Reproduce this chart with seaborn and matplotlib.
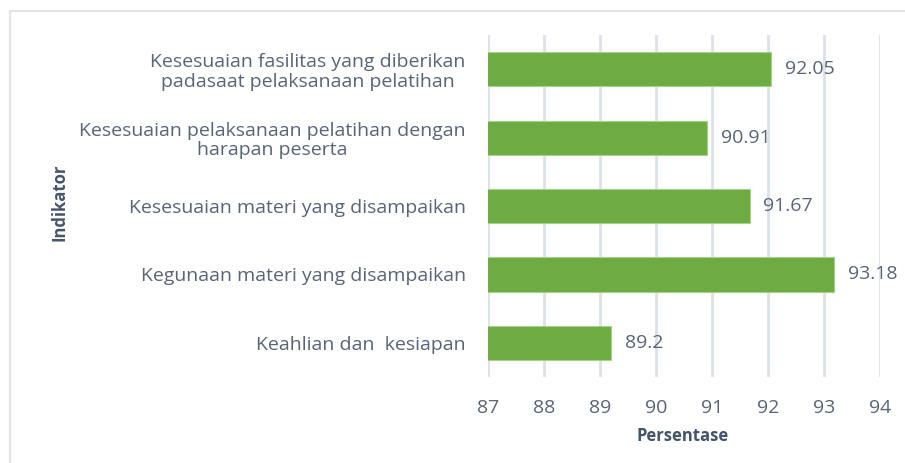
import matplotlib
matplotlib.use('Agg')
import matplotlib.pyplot as plt
import pandas as pd
import seaborn as sns
from matplotlib.lines import Line2D

# data (top to bottom as shown)
indikator = [
    "Kesesuaian fasilitas yang diberikan\npadasaat pelaksanaan pelatihan",
    "Kesesuaian pelaksanaan pelatihan dengan\nharapan peserta",
    "Kesesuaian materi yang disampaikan",
    "Kegunaan materi yang disampaikan",
    "Keahlian dan  kesiapan",
]
persentase = [92.05, 90.91, 91.67, 93.18, 89.2]
label_nilai = ["92.05", "90.91", "91.67", "93.18", "89.2"]
x_ticks = [87, 88, 89, 90, 91, 92, 93, 94]

df = pd.DataFrame({"indikator": indikator, "persentase": persentase})

sns.set_theme(style="white")
plt.rcParams['font.family'] = ['Open Sans', 'DejaVu Sans']

text_col = "#5a6477"
label_col = "#44546a"
grid_col = "#dde1e8"

fig = plt.figure(figsize=(9.05, 4.63), dpi=100)
ax = fig.add_axes([488 / 905, 1 - 377 / 463, 392 / 905, 342 / 463])

sns.barplot(data=df, x="persentase", y="indikator", orient="h",
            color="#6cac42", width=0.5, edgecolor="#a8d08d", linewidth=0.8,
            saturation=1, ax=ax, zorder=3)

ax.set_xlim(87, 94)
ax.set_ylim(4.5, -0.5)
ax.set_xticks(x_ticks)
ax.set_xticklabels([str(t) for t in x_ticks], fontsize=14, color=text_col)
ax.set_yticks(range(len(indikator)))
ax.set_yticklabels(indikator, fontsize=14, color=text_col,
                   multialignment="center", linespacing=1.1)
ax.tick_params(axis="both", length=0)
ax.tick_params(axis="y", pad=16)
ax.tick_params(axis="x", pad=16)

ax.xaxis.grid(True, color=grid_col, linewidth=2)
ax.yaxis.grid(False)
ax.set_axisbelow(True)
for s in ax.spines.values():
    s.set_visible(False)

ax.bar_label(ax.containers[0], labels=label_nilai, padding=10,
             fontsize=14, color=text_col)

ax.set_xlabel("Persentase", fontsize=12, fontweight="bold", color=label_col)
ax.set_ylabel("Indikator", fontsize=12, fontweight="bold", color=label_col)
ax.xaxis.set_label_coords(0.497, -0.147)
ax.yaxis.set_label_coords(-1.069, 0.51)

# chart frame (top and left edges)
fig.add_artist(Line2D([10 / 905, 1], [1 - 11 / 463, 1 - 11 / 463],
                      transform=fig.transFigure, color="#e0e3e8", linewidth=1.5))
fig.add_artist(Line2D([10 / 905, 10 / 905], [0, 1 - 11 / 463],
                      transform=fig.transFigure, color="#e0e3e8", linewidth=1.5))

fig.savefig("out.png", dpi=100)
